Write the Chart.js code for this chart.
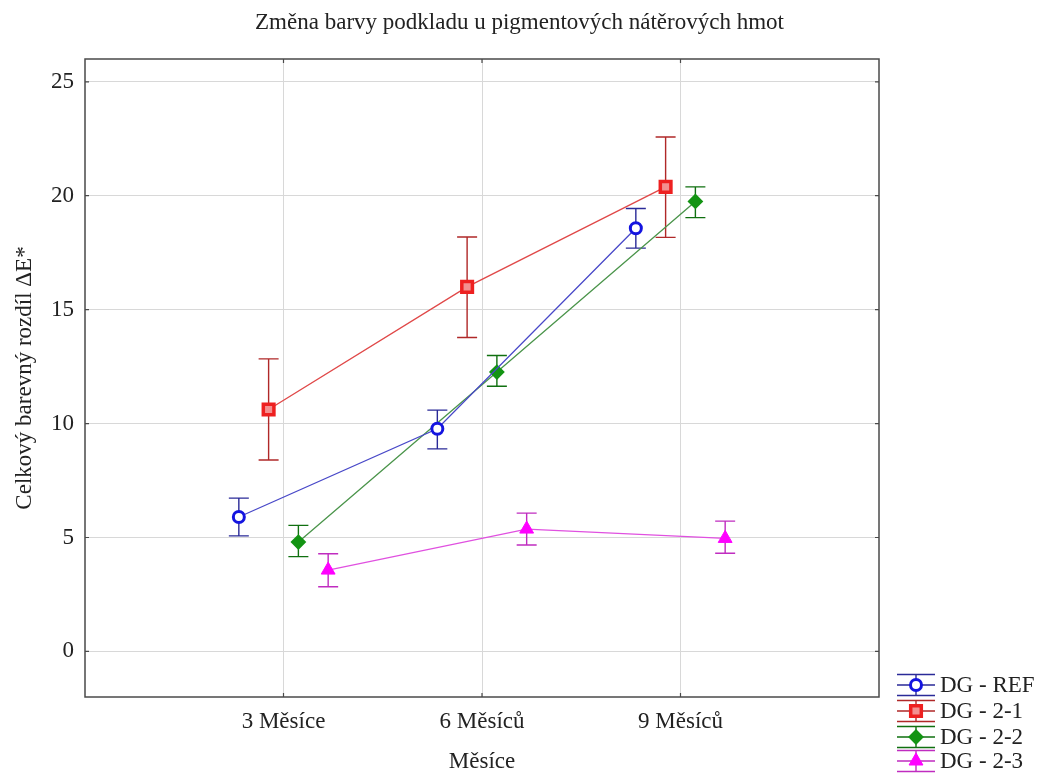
<!DOCTYPE html>
<html>
<head>
<meta charset="utf-8">
<script src="https://cdn.jsdelivr.net/npm/chart.js@4.4.0/dist/chart.umd.min.js"></script>
<style>
html, body { margin: 0; padding: 0; background: #fff; }
</style>
</head>
<body>
<canvas id="chart" width="1039" height="774"></canvas>
<script>
// ---- data ----
const months = ['3 Měsíce', '6 Měsíců', '9 Měsíců'];
const monthPos = [1, 2, 3];
const yTickValues = [0, 5, 10, 15, 20, 25];
const seriesNames = ['DG - REF', 'DG - 2-1', 'DG - 2-2', 'DG - 2-3'];

const refMean = [5.90, 9.77, 18.57];
const refLow = [5.07, 8.89, 17.70];
const refHigh = [6.73, 10.59, 19.44];

const dg21Mean = [10.62, 16.00, 20.39];
const dg21Low = [8.40, 13.78, 18.17];
const dg21High = [12.84, 18.19, 22.58];

const dg22Mean = [4.80, 12.26, 19.75];
const dg22Low = [4.16, 11.64, 19.04];
const dg22High = [5.53, 12.99, 20.39];

const dg23Mean = [3.57, 5.37, 4.96];
const dg23Low = [2.84, 4.67, 4.31];
const dg23High = [4.29, 6.07, 5.72];

// ---- styling ----
const FONT = '"Liberation Serif", "Times New Roman", serif';
const dodge = [-0.225, -0.075, 0.075, 0.225]; // side-by-side shift of the groups
const styles = [
    { line: '#4848c8', err: '#2a2a98', mark: '#1414e0', fill: '#ffffff', shape: 'circle', r: 5.5, bw: 3 },
    { line: '#e04848', err: '#b02828', mark: '#ee2020', fill: '#f39090', shape: 'rect', r: 7.5, bw: 3.5 },
    { line: '#4a944a', err: '#107010', mark: '#139413', fill: '#139413', shape: 'rectRot', r: 6.5, bw: 2 },
    { line: '#e050e0', err: '#c02cc0', mark: '#ff00ff', fill: '#ff00ff', shape: 'triangle', r: 8, bw: 1 }
];
const means = [refMean, dg21Mean, dg22Mean, dg23Mean];
const lows = [refLow, dg21Low, dg22Low, dg23Low];
const highs = [refHigh, dg21High, dg22High, dg23High];

const datasets = seriesNames.map((name, s) => ({
    label: name,
    data: means[s].map((v, i) => ({ x: monthPos[i] + dodge[s], y: v })),
    showLine: true,
    borderColor: styles[s].line,
    borderWidth: 1.3,
    pointStyle: styles[s].shape,
    pointRadius: styles[s].r,
    pointBorderWidth: styles[s].bw,
    pointBorderColor: styles[s].mark,
    pointBackgroundColor: styles[s].fill,
    pointHoverRadius: styles[s].r
}));

function drawMarker(ctx, s, x, y) {
    ctx.save();
    ctx.strokeStyle = styles[s].mark;
    ctx.fillStyle = styles[s].fill;
    ctx.lineWidth = styles[s].bw;
    Chart.helpers.drawPoint(ctx, { pointStyle: styles[s].shape, radius: styles[s].r, rotation: 0, borderWidth: styles[s].bw }, x, y);
    ctx.restore();
}

const decorations = {
    id: 'decorations',
    beforeDatasetsDraw(chart) {
        // error bars
        const ctx = chart.ctx;
        const xs = chart.scales.x, ys = chart.scales.y;
        ctx.save();
        ctx.lineWidth = 1.4;
        seriesNames.forEach((name, s) => {
            ctx.strokeStyle = styles[s].err;
            monthPos.forEach((p, i) => {
                const x = xs.getPixelForValue(p + dodge[s]);
                const y1 = ys.getPixelForValue(lows[s][i]);
                const y2 = ys.getPixelForValue(highs[s][i]);
                ctx.beginPath();
                ctx.moveTo(x, y1); ctx.lineTo(x, y2);
                ctx.moveTo(x - 10, y1); ctx.lineTo(x + 10, y1);
                ctx.moveTo(x - 10, y2); ctx.lineTo(x + 10, y2);
                ctx.stroke();
            });
        });
        ctx.restore();
    },
    afterDraw(chart) {
        const ctx = chart.ctx;
        const a = chart.chartArea;
        const xs = chart.scales.x, ys = chart.scales.y;
        ctx.save();
        // frame
        ctx.strokeStyle = '#4a4a4a';
        ctx.lineWidth = 1.5;
        ctx.strokeRect(a.left, a.top, a.right - a.left, a.bottom - a.top);
        // inward ticks
        ctx.lineWidth = 1.2;
        ctx.beginPath();
        yTickValues.forEach(v => {
            const y = ys.getPixelForValue(v);
            ctx.moveTo(a.left, y); ctx.lineTo(a.left + 4, y);
            ctx.moveTo(a.right, y); ctx.lineTo(a.right - 4, y);
        });
        monthPos.forEach(p => {
            const x = xs.getPixelForValue(p);
            ctx.moveTo(x, a.bottom); ctx.lineTo(x, a.bottom - 4);
            ctx.moveTo(x, a.top); ctx.lineTo(x, a.top + 4);
        });
        ctx.stroke();

        // title
        ctx.fillStyle = '#222';
        ctx.font = '23px ' + FONT;
        ctx.textAlign = 'center';
        ctx.textBaseline = 'middle';
        ctx.fillText('Změna barvy podkladu u pigmentových nátěrových hmot', chart.width / 2, 23);

        // legend
        const lx0 = 897, lx1 = 935, lxm = 916;
        const rowY = [685, 711, 737, 761];
        seriesNames.forEach((name, s) => {
            const y = rowY[s];
            ctx.strokeStyle = styles[s].err;
            ctx.lineWidth = 1.4;
            ctx.beginPath();
            ctx.moveTo(lx0, y); ctx.lineTo(lx1, y);
            ctx.moveTo(lx0, y - 10.5); ctx.lineTo(lx1, y - 10.5);
            ctx.moveTo(lx0, y + 10.5); ctx.lineTo(lx1, y + 10.5);
            ctx.moveTo(lxm, y - 10.5); ctx.lineTo(lxm, y + 10.5);
            ctx.stroke();
            drawMarker(ctx, s, lxm, y);
            ctx.fillStyle = '#222';
            ctx.textAlign = 'left';
            ctx.textBaseline = 'middle';
            ctx.font = '23px ' + FONT;
            ctx.fillText(name, 940, y + 1);
        });
        ctx.restore();
    }
};

Chart.defaults.font.family = FONT;
Chart.defaults.font.size = 23;
Chart.defaults.color = '#222';

new Chart(document.getElementById('chart'), {
    type: 'scatter',
    data: { datasets: datasets },
    options: {
        responsive: false,
        animation: false,
        layout: { padding: { top: 59, right: 160, bottom: 0, left: 0 } },
        plugins: {
            legend: { display: false },
            title: { display: false },
            tooltip: { enabled: false }
        },
        scales: {
            x: {
                type: 'linear',
                min: 0,
                max: 4,
                afterFit: s => { s.height = 77; },
                afterBuildTicks: s => { s.ticks = monthPos.map(v => ({ value: v })); },
                grid: { color: '#d8d8d8', lineWidth: 1, drawTicks: false },
                border: { display: false },
                ticks: {
                    padding: 11,
                    maxRotation: 0,
                    callback: v => months[monthPos.indexOf(v)] || ''
                },
                title: {
                    display: true,
                    text: 'Měsíce',
                    font: { size: 23, lineHeight: 1 },
                    padding: { top: 0, bottom: 1 }
                }
            },
            y: {
                min: -2,
                max: 26,
                afterFit: s => { s.width = 85; },
                afterBuildTicks: s => { s.ticks = yTickValues.map(v => ({ value: v })); },
                grid: { color: '#d8d8d8', lineWidth: 1, drawTicks: false },
                border: { display: false },
                ticks: { padding: 11 },
                title: {
                    display: true,
                    text: 'Celkový barevný rozdíl ΔE*',
                    font: { size: 23, lineHeight: 1 },
                    padding: { top: 13, bottom: 0 }
                }
            }
        }
    },
    plugins: [decorations]
});
</script>
</body>
</html>
